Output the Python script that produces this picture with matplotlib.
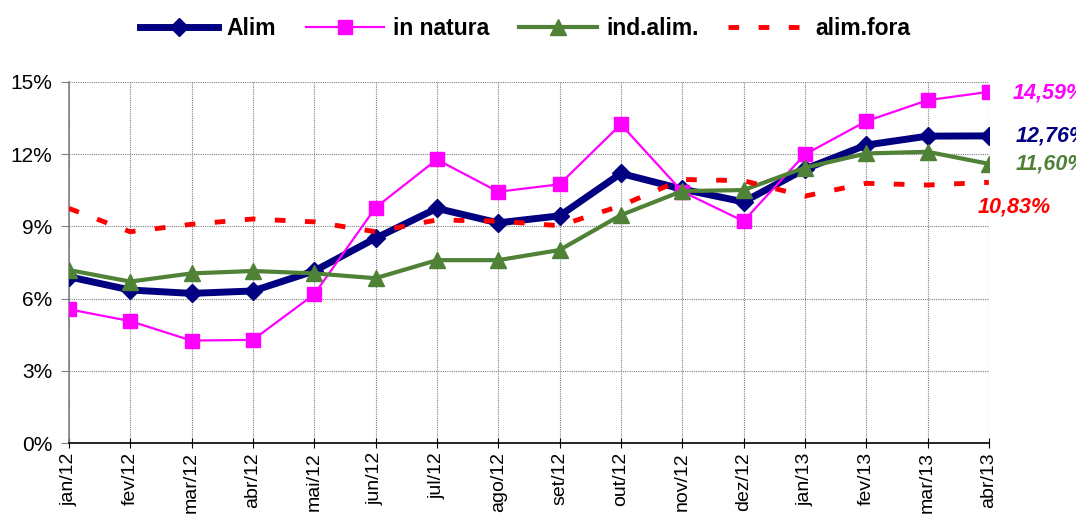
import matplotlib
matplotlib.use("Agg")
import matplotlib.pyplot as plt
from matplotlib.ticker import FuncFormatter, MultipleLocator

months = ["jan/12", "fev/12", "mar/12", "abr/12", "mai/12", "jun/12", "jul/12", "ago/12",
          "set/12", "out/12", "nov/12", "dez/12", "jan/13", "fev/13", "mar/13", "abr/13"]
alim = [6.91, 6.36, 6.22, 6.32, 7.15, 8.51, 9.75, 9.15, 9.44, 11.20, 10.55, 10.02, 11.38, 12.38, 12.75, 12.76]
in_natura = [5.56, 5.07, 4.26, 4.29, 6.18, 9.78, 11.78, 10.44, 10.75, 13.24, 10.45, 9.22, 11.99, 13.37, 14.24, 14.59]
ind_alim = [7.19, 6.71, 7.05, 7.15, 7.05, 6.85, 7.60, 7.60, 8.02, 9.47, 10.47, 10.51, 11.44, 12.03, 12.10, 11.60]
alim_fora = [9.75, 8.78, 9.09, 9.31, 9.19, 8.78, 9.27, 9.22, 9.03, 9.86, 10.95, 10.90, 10.26, 10.79, 10.72, 10.83]
end_labels = ["14,59%", "12,76%", "11,60%", "10,83%"]

plt.rcParams['font.family'] = ['Liberation Sans', 'DejaVu Sans']

fig = plt.figure(figsize=(10.76, 5.22), dpi=100)
ax = fig.add_axes([0.064, 0.151, 0.855, 0.692])

x = list(range(len(months)))
navy = '#000080'
mag = '#FF00FF'
green = '#4F8236'
red = '#FF0000'

ax.plot(x, alim, color=navy, lw=5, marker='D', ms=9, label='Alim', zorder=3)
ax.plot(x, in_natura, color=mag, lw=1.6, marker='s', ms=10, label='in natura', zorder=4)
ax.plot(x, ind_alim, color=green, lw=3, marker='^', ms=12, label='ind.alim.', zorder=5)
ax.plot(x, alim_fora, color=red, lw=3.5, linestyle=(0, (2.2, 4)), label='alim.fora', zorder=6)

ax.set_xlim(0, len(months) - 1)
ax.set_ylim(0, 15)
ax.yaxis.set_major_locator(MultipleLocator(3))
ax.yaxis.set_major_formatter(FuncFormatter(lambda v, p: f"{v:.0f}%"))
ax.set_xticks(x)
ax.set_xticklabels(months, rotation=90, fontsize=14)
ax.tick_params(axis='y', labelsize=15, length=6, direction='out', color='#808080', pad=6)
ax.tick_params(axis='x', length=7, direction='inout', color='black', pad=3)

ax.grid(True, color='#808080', linestyle=(0, (1, 1)), linewidth=0.8)
ax.set_axisbelow(True)
for s in ['top', 'right']:
    ax.spines[s].set_visible(False)
ax.spines['left'].set_color('#808080')
ax.spines['left'].set_linewidth(1.2)
ax.spines['bottom'].set_color('black')
ax.spines['bottom'].set_linewidth(1.2)

# end labels
last = len(months) - 1
kw = dict(textcoords='offset points', fontsize=15.5, fontweight='bold', fontstyle='italic',
          va='center', annotation_clip=False)
ax.annotate(end_labels[0], xy=(last, in_natura[-1]), xytext=(17, -1), color=mag, **kw)
ax.annotate(end_labels[1], xy=(last, alim[-1]), xytext=(19, 0), color=navy, **kw)
ax.annotate(end_labels[2], xy=(last, ind_alim[-1]), xytext=(19, 0), color=green, **kw)
ax.annotate(end_labels[3], xy=(last, alim_fora[-1]), xytext=(-8, -18), color=red, **kw)

leg = fig.legend(loc='center', bbox_to_anchor=(0.488, 0.945), ncol=4, frameon=False,
                 prop={'weight': 'bold', 'size': 16.5}, handlelength=3.4, columnspacing=1.3,
                 handletextpad=0.4)

fig.savefig('out.png', dpi=100)
